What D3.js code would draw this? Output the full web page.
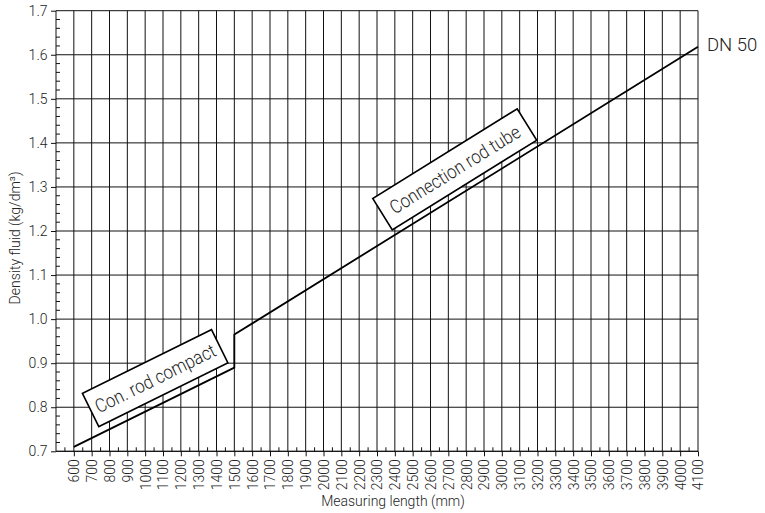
<!DOCTYPE html>
<html>
<head>
<meta charset="utf-8">
<script src="https://cdn.jsdelivr.net/npm/d3@7"></script>
<style>
  body { margin: 0; background: #fff; }
  svg { display: block; }
  text { font-family: Roboto, "Liberation Sans", sans-serif; font-weight: 300; fill: #222; }
</style>
</head>
<body>
<div id="chart"></div>
<script>
/* CONSTANTS AND GLOBALS */
const width = 765,
  height = 513,
  margin = { top: 10.7, bottom: 61.7, left: 56, right: 67 };

/* DATA */
// measuring length (mm) and density (kg/dm3)
const lengthMm = [600, 1500, 1500, 4100];
const density = [0.71, 0.89, 0.965, 1.618];

const xTickLabels = [600, 700, 800, 900, 1000, 1100, 1200, 1300, 1400, 1500, 1600, 1700,
  1800, 1900, 2000, 2100, 2200, 2300, 2400, 2500, 2600, 2700, 2800, 2900, 3000, 3100,
  3200, 3300, 3400, 3500, 3600, 3700, 3800, 3900, 4000, 4100];
const yTickLabels = [0.7, 0.8, 0.9, 1.0, 1.1, 1.2, 1.3, 1.4, 1.5, 1.6, 1.7];

const seriesName = "DN 50";
const boxTexts = ["Con. rod compact", "Connection rod tube"];
// which segment of the line each box sits along, and its centre in data units
const boxSegment = [[0, 1], [2, 3]];
const boxLength = [1056, 2736];
const boxDensity = [0.866, 1.34];

const xLabel = "Measuring length (mm)";
const yLabel = "Density fluid (kg/dm³)";

/* SCALES */
const xScale = d3.scaleLinear()
  .domain([500, 4100])
  .range([margin.left, width - margin.right]);

const yScale = d3.scaleLinear()
  .domain([0.7, 1.7])
  .range([height - margin.bottom, margin.top]);

const svg = d3.select("#chart")
  .append("svg")
  .attr("width", width)
  .attr("height", height);

const x0 = xScale.range()[0], x1 = xScale.range()[1];
const y0 = yScale.range()[0], y1 = yScale.range()[1];

// grid
svg.append("g")
  .selectAll("line")
  .data(xTickLabels)
  .join("line")
  .attr("x1", d => xScale(d)).attr("x2", d => xScale(d))
  .attr("y1", y0).attr("y2", y1)
  .attr("stroke", "#111").attr("stroke-width", 1);

svg.append("g")
  .selectAll("line")
  .data(yTickLabels)
  .join("line")
  .attr("x1", x0).attr("x2", x1)
  .attr("y1", d => yScale(d)).attr("y2", d => yScale(d))
  .attr("stroke", "#111").attr("stroke-width", 1);

// minor ticks (inside)
svg.append("g")
  .selectAll("line")
  .data(d3.range(550, 4100, 100))
  .join("line")
  .attr("x1", d => xScale(d)).attr("x2", d => xScale(d))
  .attr("y1", y0).attr("y2", y0 - 4)
  .attr("stroke", "#111");

svg.append("g")
  .selectAll("line")
  .data(d3.range(0.72, 1.7, 0.02).filter(v => Math.abs(v * 10 - Math.round(v * 10)) > 0.01))
  .join("line")
  .attr("x1", x0).attr("x2", x0 + 4)
  .attr("y1", d => yScale(d)).attr("y2", d => yScale(d))
  .attr("stroke", "#111");

// AXES
const xAxis = d3.axisBottom(xScale)
  .tickValues(xTickLabels)
  .tickSize(5)
  .tickFormat(d3.format("d"));

const yAxis = d3.axisLeft(yScale)
  .tickValues(yTickLabels)
  .tickSize(5)
  .tickFormat(d3.format(".1f"));

svg.append("g")
  .attr("class", "xAxis")
  .attr("transform", `translate(0, ${y0})`)
  .call(xAxis)
  .call(g => g.select(".domain").attr("stroke", "#111").attr("d", `M${x0},0H${x1}`))
  .call(g => g.selectAll(".tick line").attr("stroke", "#111"))
  .call(g => g.selectAll(".tick text")
    .attr("transform", "rotate(-90)")
    .attr("text-anchor", "end")
    .attr("x", -8)
    .attr("y", 0)
    .attr("dy", "0.35em")
    .attr("fill", "#222")
    .style("font-size", "14px"));

svg.append("g")
  .attr("class", "yAxis")
  .attr("transform", `translate(${x0}, 0)`)
  .call(yAxis)
  .call(g => g.select(".domain").attr("stroke", "#111").attr("d", `M0,${y0}V${y1}`))
  .call(g => g.selectAll(".tick line").attr("stroke", "#111"))
  .call(g => g.selectAll(".tick text")
    .attr("x", -8.5)
    .attr("fill", "#222")
    .style("font-size", "14px"));

svg.selectAll(".xAxis, .yAxis").attr("font-family", null);

// axis titles
svg.append("text")
  .attr("x", 393)
  .attr("y", 506)
  .attr("text-anchor", "middle")
  .style("font-size", "14px")
  .text(xLabel);

svg.append("text")
  .attr("transform", `translate(20, 238) rotate(-90)`)
  .attr("text-anchor", "middle")
  .style("font-size", "14px")
  .text(yLabel);

// the line
const points = lengthMm.map((d, i) => [d, density[i]]);
const line = d3.line()
  .x(d => xScale(d[0]))
  .y(d => yScale(d[1]));

svg.append("path")
  .datum(points)
  .attr("d", line)
  .attr("fill", "none")
  .attr("stroke", "#000")
  .attr("stroke-width", 1.8);

const last = points[points.length - 1];
svg.append("text")
  .attr("x", xScale(last[0]) + 9)
  .attr("y", yScale(last[1]) + 4)
  .style("font-size", "18.5px")
  .text(seriesName);

// label boxes along the line
const boxW = [144, 170];
const textW = [132, 150];
boxTexts.forEach((t, i) => {
  const a = points[boxSegment[i][0]], b = points[boxSegment[i][1]];
  const angle = Math.atan2(yScale(b[1]) - yScale(a[1]), xScale(b[0]) - xScale(a[0])) * 180 / Math.PI;
  const g = svg.append("g")
    .attr("transform", `translate(${xScale(boxLength[i])}, ${yScale(boxDensity[i])}) rotate(${angle})`);
  g.append("rect")
    .attr("x", -boxW[i] / 2)
    .attr("y", -18.5)
    .attr("width", boxW[i])
    .attr("height", 37)
    .attr("fill", "#fff")
    .attr("stroke", "#000")
    .attr("stroke-width", 1.6);
  g.append("text")
    .attr("text-anchor", "middle")
    .attr("dy", "0.36em")
    .attr("textLength", textW[i])
    .attr("lengthAdjust", "spacingAndGlyphs")
    .style("font-size", "19px")
    .text(t);
});
</script>
</body>
</html>
